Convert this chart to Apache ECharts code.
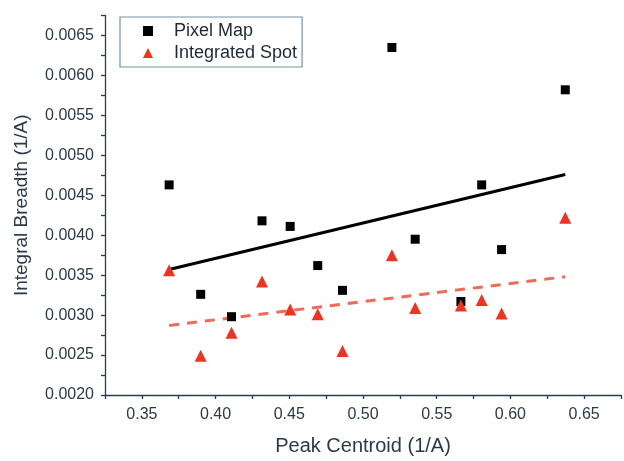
<!DOCTYPE html>
<html>
<head>
<meta charset="utf-8">
<script src="https://cdn.jsdelivr.net/npm/echarts@6/dist/echarts.min.js"></script>
<style>html,body{margin:0;padding:0;background:#fff}#c{width:624px;height:461px}</style>
</head>
<body>
<div id="c"></div>
<script>
const peakCentroid = [0.3685, 0.3899, 0.4108, 0.4315, 0.4506, 0.4693, 0.4861, 0.5196, 0.5354, 0.5664, 0.5805, 0.5940, 0.6372];
const pixelMap = [0.00463, 0.00326, 0.00298, 0.00418, 0.00411, 0.00362, 0.00331, 0.00635, 0.00395, 0.00317, 0.00463, 0.00382, 0.00582];
const integratedSpot = [0.00356, 0.00249, 0.00278, 0.00342, 0.00307, 0.00301, 0.00255, 0.00375, 0.00309, 0.00312, 0.00319, 0.00302, 0.00422];
const fitX = [0.3685, 0.6372];
const fitPixelMap = [0.00357, 0.00476];
const fitIntegratedSpot = [0.00287, 0.00348];
const xTicks = [0.35, 0.40, 0.45, 0.50, 0.55, 0.60, 0.65];
const yTicks = [0.0020, 0.0025, 0.0030, 0.0035, 0.0040, 0.0045, 0.0050, 0.0055, 0.0060, 0.0065];

const pairs = (xs, ys) => xs.map((x, i) => [x, ys[i]]);
const isTick = (v, list) => list.some(t => Math.abs(t - v) < 1e-9);

const axisCol = '#22404f';
const textCol = '#2b3a46';
const font = '"Liberation Sans", Arial, sans-serif';

const chart = echarts.init(document.getElementById('c'), null, {renderer: 'canvas'});
chart.setOption({
  backgroundColor: '#fff',
  animation: false,
  grid: {left: 105, right: 0, top: 15.5, bottom: 62.3, containLabel: false},
  xAxis: {
    type: 'value', min: 0.325, max: 0.675, interval: 0.025,
    name: 'Peak Centroid (1/A)', nameLocation: 'middle', nameGap: 41,
    nameTextStyle: {fontSize: 20, color: textCol, fontFamily: font},
    axisLine: {show: true, lineStyle: {color: axisCol, width: 1.3}},
    axisTick: {show: true, inside: false, length: 4, lineStyle: {color: axisCol, width: 1.3}},
    axisLabel: {margin: 12, fontSize: 16, color: textCol, fontFamily: font,
      formatter: v => isTick(v, xTicks) ? v.toFixed(2) : ''},
    splitLine: {show: false}
  },
  yAxis: {
    type: 'value', min: 0.002, max: 0.00675, interval: 0.00025,
    name: 'Integral Breadth (1/A)', nameLocation: 'middle', nameGap: 74,
    nameTextStyle: {fontSize: 19, color: textCol, fontFamily: font},
    axisLine: {show: true, lineStyle: {color: axisCol, width: 1.3}},
    axisTick: {show: true, inside: false, length: 4, lineStyle: {color: axisCol, width: 1.3}},
    axisLabel: {margin: 11, fontSize: 16, color: textCol, fontFamily: font,
      formatter: v => isTick(v, yTicks) ? v.toFixed(4) : ''},
    splitLine: {show: false}
  },
  legend: {
    orient: 'vertical', left: 120, top: 17,
    padding: [5, 5, 5, 23], itemGap: 4, itemWidth: 10, itemHeight: 10,
    borderColor: '#7393a3', borderWidth: 1.2,
    textStyle: {fontSize: 18, color: '#1e2a33', fontFamily: font, lineHeight: 18, padding: [0, 0, 0, 16]},
    data: [{name: 'Pixel Map', icon: 'rect'}, {name: 'Integrated Spot', icon: 'triangle'}]
  },
  series: [
    {
      name: 'Pixel Map fit', type: 'line', data: pairs(fitX, fitPixelMap),
      showSymbol: false, silent: true, z: 1,
      lineStyle: {color: '#000', width: 3}
    },
    {
      name: 'Integrated Spot fit', type: 'line', data: pairs(fitX, fitIntegratedSpot),
      showSymbol: false, silent: true, z: 1,
      lineStyle: {color: '#f26a56', width: 3, type: [10, 8]}
    },
    {
      name: 'Pixel Map', type: 'scatter', data: pairs(peakCentroid, pixelMap),
      symbol: 'rect', symbolSize: 9, z: 3,
      itemStyle: {color: '#000', opacity: 1}
    },
    {
      name: 'Integrated Spot', type: 'scatter', data: pairs(peakCentroid, integratedSpot),
      symbol: 'triangle', symbolSize: 12, z: 4,
      itemStyle: {color: '#f0321f', opacity: 1}
    }
  ]
});
</script>
</body>
</html>
